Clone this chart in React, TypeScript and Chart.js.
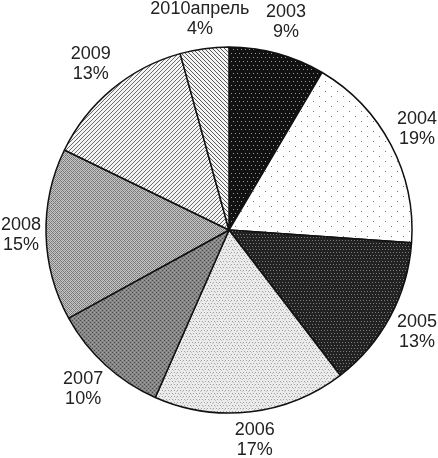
import React, { useEffect, useRef } from "react";
import { Chart, registerables } from "chart.js";

Chart.register(...registerables);

const categories = ["2003", "2004", "2005", "2006", "2007", "2008", "2009", "2010апрель"];
const sliceValues = [8.5, 17.6, 13.5, 17.0, 10.4, 15.2, 13.5, 4.3];
const percentLabels = ["9%", "19%", "13%", "17%", "10%", "15%", "13%", "4%"];

type Drawer = (c: CanvasRenderingContext2D) => void;

function makePattern(w: number, h: number, draw: Drawer): CanvasPattern | string {
  const cv = document.createElement("canvas");
  cv.width = w;
  cv.height = h;
  const c = cv.getContext("2d");
  if (!c) return "#888";
  draw(c);
  const p = c.createPattern(cv, "repeat");
  return p || "#888";
}

function buildPatterns(): (CanvasPattern | string)[] {
  const p2003 = makePattern(8, 8, (c) => {
    c.fillStyle = "#111";
    c.fillRect(0, 0, 8, 8);
    c.fillStyle = "#9a9a9a";
    c.fillRect(1, 1, 1, 1);
    c.fillRect(5, 1, 1, 1);
    c.fillRect(3, 5, 1, 1);
    c.fillRect(7, 5, 1, 1);
  });
  const p2004 = makePattern(12, 10, (c) => {
    c.fillStyle = "#fff";
    c.fillRect(0, 0, 12, 10);
    c.fillStyle = "#777";
    c.fillRect(1, 1, 1, 1);
    c.fillRect(7, 6, 1, 1);
  });
  const p2005 = makePattern(6, 6, (c) => {
    c.fillStyle = "#222";
    c.fillRect(0, 0, 6, 6);
    c.fillStyle = "#7a7a7a";
    c.fillRect(0, 0, 1, 1);
    c.fillRect(3, 0, 1, 1);
    c.fillRect(1, 3, 1, 1);
    c.fillRect(4, 3, 1, 1);
  });
  const p2006 = makePattern(6, 6, (c) => {
    c.fillStyle = "#ebebeb";
    c.fillRect(0, 0, 6, 6);
    c.fillStyle = "#a0a0a0";
    c.fillRect(0, 0, 1, 1);
    c.fillRect(3, 0, 1, 1);
    c.fillRect(1, 3, 1, 1);
    c.fillRect(4, 3, 1, 1);
    c.fillStyle = "#c0c0c0";
    c.fillRect(2, 1, 1, 1);
    c.fillRect(5, 4, 1, 1);
  });
  const p2007 = makePattern(4, 4, (c) => {
    c.fillStyle = "#858585";
    c.fillRect(0, 0, 4, 4);
    c.fillStyle = "#4a4a4a";
    c.fillRect(0, 0, 1, 1);
    c.fillRect(2, 2, 1, 1);
    c.fillStyle = "#a5a5a5";
    c.fillRect(2, 0, 1, 1);
    c.fillRect(0, 2, 1, 1);
  });
  const p2008 = makePattern(4, 4, (c) => {
    c.fillStyle = "#c4c4c4";
    c.fillRect(0, 0, 4, 4);
    c.fillStyle = "#777";
    c.fillRect(0, 0, 1, 1);
    c.fillRect(1, 1, 1, 1);
    c.fillRect(2, 2, 1, 1);
    c.fillRect(3, 3, 1, 1);
    c.fillRect(3, 1, 1, 1);
    c.fillRect(1, 3, 1, 1);
    c.fillStyle = "#a0a0a0";
    c.fillRect(2, 0, 1, 1);
    c.fillRect(0, 2, 1, 1);
  });
  const p2009 = makePattern(4, 4, (c) => {
    c.fillStyle = "#f4f4f4";
    c.fillRect(0, 0, 4, 4);
    c.fillStyle = "#6a6a6a";
    c.fillRect(3, 0, 1, 1);
    c.fillRect(2, 1, 1, 1);
    c.fillRect(1, 2, 1, 1);
    c.fillRect(0, 3, 1, 1);
  });
  const p2010 = makePattern(4, 4, (c) => {
    c.fillStyle = "#f4f4f4";
    c.fillRect(0, 0, 4, 4);
    c.fillStyle = "#5a5a5a";
    c.fillRect(0, 0, 1, 1);
    c.fillRect(1, 1, 1, 1);
    c.fillRect(2, 2, 1, 1);
    c.fillRect(3, 3, 1, 1);
  });
  return [p2003, p2004, p2005, p2006, p2007, p2008, p2009, p2010];
}

const labelPlugin = {
  id: "outsideLabels",
  afterDatasetsDraw(chart: any) {
    const ctx = chart.ctx as CanvasRenderingContext2D;
    const meta = chart.getDatasetMeta(0);
    const W = chart.width;
    const H = chart.height;
    ctx.save();
    ctx.font = '18px "Liberation Sans", Arial, sans-serif';
    ctx.fillStyle = "#222";
    ctx.textAlign = "center";
    ctx.textBaseline = "middle";
    meta.data.forEach((arc: any, i: number) => {
      const { x, y, startAngle, endAngle, outerRadius } = arc.getProps(
        ["x", "y", "startAngle", "endAngle", "outerRadius"],
        true
      );
      const mid = (startAngle + endAngle) / 2;
      const r = outerRadius + 33;
      let lx = x + Math.cos(mid) * r;
      let ly = y + Math.sin(mid) * r;
      const tw = Math.max(
        ctx.measureText(categories[i]).width,
        ctx.measureText(percentLabels[i]).width
      );
      lx = Math.min(Math.max(lx, tw / 2 + 1), W - tw / 2 - 1);
      ly = Math.min(Math.max(ly, 19), H - 18);
      ctx.fillText(categories[i], lx, ly - 10);
      ctx.fillText(percentLabels[i], lx, ly + 10);
    });
    ctx.restore();
  },
};

export default function App() {
  const ref = useRef<HTMLCanvasElement | null>(null);

  useEffect(() => {
    const canvas = ref.current;
    if (!canvas) return;
    const patterns = buildPatterns();
    const chart = new Chart(canvas, {
      type: "pie",
      data: {
        labels: categories,
        datasets: [
          {
            data: sliceValues,
            backgroundColor: patterns as any,
            borderColor: "#111",
            borderWidth: 1.5,
            radius: 183,
          } as any,
        ],
      },
      options: {
        responsive: false,
        animation: false,
        layout: { padding: { left: 40, right: 20, top: 40, bottom: 38 } },
        plugins: {
          legend: { display: false },
          tooltip: { enabled: false },
        },
      },
      plugins: [labelPlugin],
    });
    return () => chart.destroy();
  }, []);

  return (
    <div style={{ position: "fixed", left: 0, top: 0, width: 438, height: 458, background: "#fff" }}>
      <canvas ref={ref} width={438} height={458} style={{ display: "block" }} />
    </div>
  );
}
